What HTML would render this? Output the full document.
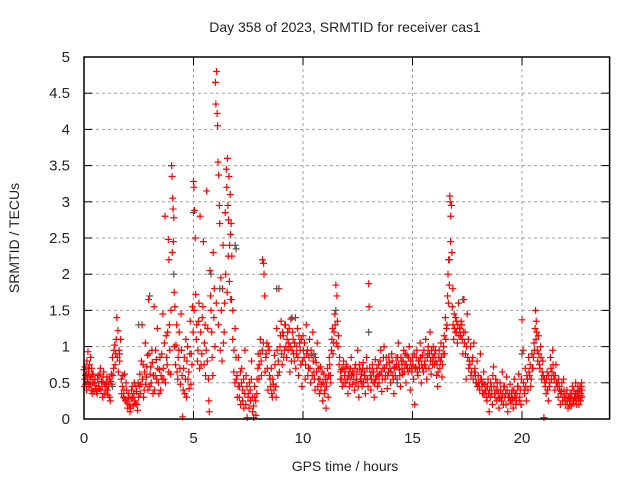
<!DOCTYPE html>
<html><head><meta charset="utf-8"><style>
body{margin:0;background:#fff}
svg text{font-family:"Liberation Sans",sans-serif;font-size:14px;fill:#222}
svg text.tick{font-size:15px}
</style></head><body>
<svg id="chart" width="640" height="480" xmlns="http://www.w3.org/2000/svg">
<text x="345" y="32" text-anchor="middle">Day 358 of 2023, SRMTID for receiver cas1</text>
<text transform="translate(19,238) rotate(-90)" text-anchor="middle">SRMTID / TECUs</text>
<text x="345" y="471" text-anchor="middle">GPS time / hours</text>
<g id="grid"></g>
<g id="ticks"></g>
<g id="marks-red"></g>
<g id="marks-gray"></g>
<rect x="84" y="57" width="525.6" height="362" fill="none" stroke="#000" stroke-width="1.5"/>
</svg>
<script>
const xTicks=[0,5,10,15,20];
const yTicks=[0,0.5,1,1.5,2,2.5,3,3.5,4,4.5,5];
const yTickLabels=["0","0.5","1","1.5","2","2.5","3","3.5","4","4.5","5"];
const redTimes=[
0.00,0.03,0.05,0.08,0.10,0.13,0.15,0.18,0.20,0.23,
0.25,0.28,0.30,0.33,0.35,0.38,0.40,0.45,0.50,0.55,
0.60,0.65,0.70,0.75,0.80,0.85,0.90,0.95,1.00,1.05,
1.10,1.15,1.20,1.25,1.30,1.35,1.40,1.45,1.50,1.55,
1.60,1.63,1.67,1.70,1.75,1.80,1.85,1.90,1.95,2.00,
2.05,2.10,2.15,2.20,2.25,2.30,2.35,2.40,2.45,2.50,
2.55,2.60,2.65,2.70,2.75,2.80,2.85,2.90,2.95,3.00,
3.05,3.10,3.15,3.20,3.25,3.30,3.35,3.40,3.45,3.50,
3.55,3.60,3.65,3.70,3.75,3.80,3.85,3.88,3.90,3.95,
4.00,4.02,4.05,4.07,4.10,4.12,4.15,4.20,4.25,4.30,
4.35,4.40,4.45,4.50,4.55,4.60,4.65,4.70,4.75,4.80,
4.85,4.90,4.95,5.00,5.02,5.05,5.08,5.10,5.15,5.20,
5.25,5.30,5.35,5.40,5.45,5.50,5.55,5.60,5.65,5.70,
5.72,5.75,5.80,5.85,5.90,5.95,6.00,6.02,6.05,6.08,
6.10,6.12,6.15,6.18,6.20,6.25,6.30,6.35,6.40,6.45,
6.50,6.52,6.55,6.57,6.60,6.62,6.65,6.68,6.70,6.72,
6.75,6.80,6.85,6.90,6.95,7.00,7.05,7.10,7.15,7.20,
7.25,7.30,7.35,7.40,7.45,7.50,7.55,7.60,7.65,7.70,
7.75,7.80,7.85,7.90,7.95,8.00,8.05,8.10,8.15,8.20,
8.22,8.25,8.30,8.35,8.40,8.45,8.50,8.55,8.60,8.65,
8.70,8.75,8.80,8.85,8.90,8.95,9.00,9.05,9.10,9.15,
9.20,9.25,9.30,9.35,9.40,9.45,9.50,9.55,9.60,9.65,
9.70,9.75,9.80,9.85,9.90,9.95,10.00,10.05,10.10,10.15,
10.20,10.25,10.30,10.35,10.40,10.45,10.50,10.55,10.60,10.65,
10.70,10.75,10.80,10.85,10.90,10.95,11.00,11.05,11.10,11.15,
11.20,11.25,11.30,11.35,11.40,11.45,11.50,11.55,11.60,11.65,
11.70,11.75,11.80,11.85,11.90,11.95,12.00,12.05,12.10,12.15,
12.20,12.25,12.30,12.35,12.40,12.45,12.50,12.55,12.60,12.65,
12.70,12.75,12.80,12.85,12.90,12.95,13.00,13.02,13.05,13.10,
13.15,13.20,13.25,13.30,13.35,13.40,13.45,13.50,13.55,13.60,
13.65,13.70,13.75,13.80,13.85,13.90,13.95,14.00,14.05,14.10,
14.15,14.20,14.25,14.30,14.35,14.40,14.45,14.50,14.55,14.60,
14.65,14.70,14.75,14.80,14.85,14.90,14.95,15.00,15.05,15.10,
15.15,15.20,15.25,15.30,15.35,15.40,15.45,15.50,15.55,15.60,
15.65,15.70,15.75,15.80,15.85,15.90,15.95,16.00,16.05,16.10,
16.15,16.20,16.25,16.30,16.35,16.40,16.45,16.50,16.55,16.60,
16.62,16.65,16.68,16.70,16.72,16.75,16.78,16.80,16.82,16.85,
16.88,16.90,16.95,17.00,17.05,17.10,17.15,17.20,17.25,17.30,
17.35,17.40,17.45,17.50,17.55,17.60,17.65,17.70,17.75,17.80,
17.85,17.90,17.95,18.00,18.05,18.10,18.15,18.20,18.25,18.30,
18.35,18.40,18.45,18.50,18.55,18.60,18.65,18.70,18.75,18.80,
18.85,18.90,18.95,19.00,19.05,19.10,19.15,19.20,19.25,19.30,
19.35,19.40,19.45,19.50,19.55,19.60,19.65,19.70,19.75,19.80,
19.85,19.90,19.95,20.00,20.05,20.10,20.15,20.20,20.25,20.30,
20.35,20.40,20.45,20.50,20.55,20.60,20.62,20.65,20.70,20.75,
20.80,20.85,20.90,20.95,21.00,21.05,21.10,21.15,21.20,21.25,
21.30,21.35,21.40,21.45,21.50,21.55,21.60,21.65,21.70,21.75,
21.80,21.85,21.90,21.95,22.00,22.05,22.10,22.15,22.20,22.25,
22.30,22.35,22.40,22.45,22.50,22.55,22.60,22.65,22.70,22.72];
const redValues=[
0.68,0.55,0.72,0.48,0.62,0.80,0.52,0.93,0.65,0.45,
0.75,0.58,0.85,0.40,0.70,0.62,0.50,0.38,0.55,0.46,
0.35,0.60,0.42,0.70,0.52,0.30,0.65,0.48,0.40,0.58,
0.33,0.55,0.25,0.62,0.85,0.70,1.02,0.90,1.40,1.22,
0.95,0.80,1.10,0.55,0.45,0.30,0.62,0.25,0.40,0.15,
0.35,0.10,0.28,0.45,0.18,0.50,0.22,0.38,0.12,0.30,
0.62,0.48,1.30,0.75,0.40,1.05,0.58,0.88,1.65,0.45,
0.72,0.95,0.35,1.55,0.60,0.82,1.25,0.50,0.68,0.40,
0.90,1.45,0.55,2.80,1.15,0.75,2.48,2.20,1.30,0.62,
3.50,3.35,3.05,2.90,2.78,1.75,1.55,1.02,0.65,0.85,
1.20,0.48,0.95,0.03,0.70,0.35,1.10,0.80,0.55,0.42,
1.35,0.90,1.55,3.28,3.20,2.88,2.50,1.72,1.30,0.95,
1.60,2.80,0.75,1.40,2.45,1.05,0.60,3.15,1.25,0.25,
0.10,2.05,1.50,0.85,2.30,1.80,4.65,4.35,4.80,4.22,
4.05,3.55,3.37,2.95,2.70,1.95,0.80,2.40,1.20,2.85,
3.45,3.20,3.60,2.95,2.75,3.35,2.40,3.10,1.65,2.70,
2.25,1.50,0.95,1.25,0.55,0.30,0.85,0.45,0.20,0.70,
0.40,0.15,0.95,0.60,0.02,0.35,0.50,0.25,0.80,0.10,
0.02,0.30,0.05,0.55,0.90,0.75,1.10,0.60,2.20,2.15,
2.00,1.70,0.85,1.05,0.40,0.95,0.55,0.70,0.30,0.48,
0.88,0.45,1.25,0.60,1.80,1.00,1.35,0.75,1.15,0.95,
1.30,0.85,1.20,1.05,0.65,1.38,0.95,1.10,0.80,1.40,
0.90,1.25,0.60,1.05,0.75,0.45,1.15,0.85,0.55,1.30,
0.95,0.70,1.10,0.50,0.88,1.20,0.65,0.40,0.78,1.05,
0.55,0.35,0.72,0.48,0.25,0.62,0.40,0.15,0.55,0.30,
0.85,0.60,0.95,1.25,1.05,1.45,1.85,1.70,1.00,0.75,
0.55,0.68,0.45,0.80,0.60,0.50,0.72,0.35,0.65,0.55,
0.85,0.48,0.62,0.40,0.75,0.55,0.95,0.30,0.68,0.52,
0.45,0.78,0.60,0.35,0.85,0.55,1.87,1.55,0.70,0.40,
0.65,0.50,0.30,0.82,0.58,0.45,0.75,0.62,0.95,0.38,
0.70,1.00,0.55,0.85,0.42,0.65,0.78,0.50,0.90,0.60,
0.35,0.72,0.85,0.55,1.05,0.68,0.45,0.80,0.62,0.95,
0.75,0.50,0.88,0.65,1.00,0.40,0.70,0.85,0.55,0.20,
0.72,0.95,0.60,0.80,1.05,0.50,0.88,0.65,0.75,1.10,
0.55,0.90,0.70,1.20,0.62,0.85,1.00,0.75,0.95,0.60,
0.45,0.85,0.70,1.05,0.58,0.90,1.15,1.40,1.25,1.70,
2.00,2.20,1.85,3.08,3.00,2.80,2.95,2.30,1.55,1.30,
1.10,1.45,1.20,1.35,1.05,1.60,1.25,1.15,1.30,0.90,
1.65,1.20,0.55,1.45,1.10,0.80,1.00,0.65,0.85,1.05,
0.70,0.50,0.80,0.60,0.45,0.90,0.55,0.35,0.65,0.48,
0.40,0.25,0.55,0.10,0.30,0.45,0.20,0.72,0.35,0.55,
0.25,0.40,0.15,0.50,0.30,0.65,0.20,0.45,0.35,0.58,
0.10,0.30,0.48,0.22,0.40,0.15,0.55,0.35,0.25,0.45,
0.62,0.30,0.20,1.37,0.95,0.40,0.70,0.25,0.55,0.85,
0.60,0.45,0.90,0.70,1.05,1.25,1.50,1.35,0.95,1.15,
0.75,1.00,0.55,0.80,0.02,0.50,0.35,0.65,0.25,0.45,
0.85,0.55,0.95,0.60,0.40,0.75,0.50,0.30,0.45,0.20,
0.38,0.25,0.55,0.30,0.20,0.40,0.15,0.28,0.35,0.18,
0.45,0.25,0.30,0.50,0.20,0.38,0.28,0.45,0.32,0.50];
const redTimes2=[
0.02,0.07,0.12,0.17,0.22,0.27,0.32,0.37,0.42,0.47,
0.52,0.57,0.62,0.67,0.72,0.77,0.82,0.87,0.92,0.97,
1.02,1.07,1.12,1.17,1.22,1.27,1.32,1.37,1.42,1.47,
1.52,1.57,1.62,1.72,1.77,1.82,1.87,1.92,1.97,2.02,
2.07,2.12,2.17,2.22,2.27,2.32,2.37,2.42,2.47,2.52,
2.57,2.62,2.67,2.72,2.77,2.82,2.87,2.92,2.97,3.02,
3.07,3.12,3.17,3.22,3.27,3.32,3.37,3.42,3.47,3.52,
3.57,3.62,3.67,3.72,3.77,3.82,3.87,3.92,3.97,4.03,
4.08,4.13,4.18,4.23,4.28,4.33,4.38,4.43,4.48,4.53,
4.58,4.63,4.68,4.73,4.78,4.83,4.88,4.93,4.98,5.03,
5.13,5.18,5.23,5.28,5.33,5.38,5.43,5.48,5.53,5.58,
5.63,5.68,5.78,5.83,5.88,5.93,5.98,6.04,6.14,6.22,
6.27,6.32,6.37,6.42,6.47,6.54,6.59,6.64,6.69,6.74,
6.79,6.84,6.89,6.94,6.99,7.04,7.09,7.14,7.19,7.24,
7.29,7.34,7.39,7.44,7.49,7.54,7.59,7.64,7.69,7.74,
7.79,7.84,7.89,7.94,7.99,8.04,8.09,8.14,8.19,8.27,
8.32,8.37,8.42,8.47,8.52,8.57,8.62,8.67,8.72,8.77,
8.82,8.87,8.92,8.97,9.02,9.07,9.12,9.17,9.22,9.27,
9.32,9.37,9.42,9.47,9.52,9.57,9.62,9.67,9.72,9.77,
9.82,9.87,9.92,9.97,10.02,10.07,10.12,10.17,10.22,10.27,
10.32,10.37,10.42,10.47,10.52,10.57,10.62,10.67,10.72,10.77,
10.82,10.87,10.92,10.97,11.02,11.07,11.12,11.17,11.22,11.27,
11.32,11.37,11.42,11.47,11.52,11.57,11.62,11.67,11.72,11.77,
11.82,11.87,11.92,11.97,12.02,12.07,12.12,12.17,12.22,12.27,
12.32,12.37,12.42,12.47,12.52,12.57,12.62,12.67,12.72,12.77,
12.82,12.87,12.92,12.97,13.07,13.12,13.17,13.22,13.27,13.32,
13.37,13.42,13.47,13.52,13.57,13.62,13.67,13.72,13.77,13.82,
13.87,13.92,13.97,14.02,14.07,14.12,14.17,14.22,14.27,14.32,
14.37,14.42,14.47,14.52,14.57,14.62,14.67,14.72,14.77,14.82,
14.87,14.92,14.97,15.02,15.07,15.12,15.17,15.22,15.27,15.32,
15.37,15.42,15.47,15.52,15.57,15.62,15.67,15.72,15.77,15.82,
15.87,15.92,15.97,16.02,16.07,16.12,16.17,16.22,16.27,16.32,
16.37,16.42,16.47,16.52,16.57,16.64,16.74,16.84,16.92,16.97,
17.02,17.07,17.12,17.17,17.22,17.27,17.32,17.37,17.42,17.47,
17.52,17.57,17.62,17.67,17.72,17.77,17.82,17.87,17.92,17.97,
18.02,18.07,18.12,18.17,18.22,18.27,18.32,18.37,18.42,18.47,
18.52,18.57,18.62,18.67,18.72,18.77,18.82,18.87,18.92,18.97,
19.02,19.07,19.12,19.17,19.22,19.27,19.32,19.37,19.42,19.47,
19.52,19.57,19.62,19.67,19.72,19.77,19.82,19.87,19.92,19.97,
20.07,20.12,20.17,20.22,20.27,20.32,20.37,20.42,20.47,20.52,
20.57,20.64,20.67,20.72,20.77,20.82,20.87,20.92,20.97,21.02,
21.07,21.12,21.17,21.22,21.27,21.32,21.37,21.42,21.47,21.52,
21.57,21.62,21.67,21.72,21.77,21.82,21.87,21.92,21.97,22.02,
22.07,22.12,22.17,22.22,22.27,22.32,22.37,22.42,22.47,22.52,
22.57,22.62,22.67,22.69,22.71,22.73,22.74,22.60,22.55,22.45];
const redValues2=[
0.45,0.60,0.40,0.55,0.70,0.48,0.58,0.35,0.62,0.50,
0.42,0.38,0.55,0.45,0.62,0.40,0.50,0.58,0.35,0.45,
0.50,0.40,0.45,0.30,0.52,0.48,0.60,0.95,0.75,1.10,
0.85,0.65,0.90,0.35,0.60,0.40,0.28,0.50,0.22,0.30,
0.20,0.15,0.40,0.30,0.35,0.25,0.45,0.20,0.50,0.45,
0.35,0.80,0.55,0.30,0.65,0.48,0.72,0.40,0.90,0.62,
0.50,0.78,0.60,0.40,0.95,0.55,0.70,0.35,0.85,0.60,
0.55,0.70,1.05,0.50,0.85,1.20,0.65,0.95,1.50,2.30,
2.45,1.00,0.75,1.30,0.55,0.95,0.70,1.45,0.60,0.40,
0.85,0.55,0.30,1.00,0.65,0.90,0.48,0.75,1.20,1.50,
1.10,0.80,1.35,0.70,1.20,0.90,1.55,0.75,1.30,0.95,
0.80,0.55,1.70,1.20,0.60,1.40,1.00,1.60,1.30,0.95,
1.50,1.80,1.05,1.60,2.00,1.75,2.25,1.90,2.55,1.65,
1.10,0.65,0.50,0.85,0.60,0.45,0.30,0.65,0.50,0.25,
0.55,0.35,0.20,0.45,0.30,0.15,0.40,0.55,0.30,0.18,
0.45,0.25,0.35,0.70,0.55,0.90,0.80,0.95,1.05,0.65,
0.90,0.70,1.00,0.60,0.45,0.35,0.55,0.40,0.75,0.30,
0.95,0.80,0.65,1.15,0.90,1.20,0.85,1.30,1.00,1.10,
0.95,1.25,1.00,0.80,1.20,0.90,1.05,0.70,1.00,0.85,
1.15,0.95,1.10,0.80,0.95,1.05,0.75,0.90,0.60,0.85,
0.70,0.95,0.60,0.80,0.55,0.85,0.65,0.45,0.70,0.55,
0.40,0.65,0.50,0.35,0.55,0.45,0.70,0.60,0.75,0.50,
1.10,0.90,1.20,1.30,1.05,1.35,1.15,0.85,0.65,0.55,
0.70,0.50,0.65,0.75,0.55,0.60,0.45,0.70,0.60,0.65,
0.55,0.70,0.50,0.65,0.45,0.75,0.55,0.62,0.70,0.50,
0.65,0.55,0.70,0.45,0.60,0.55,0.75,0.65,0.50,0.55,
0.70,0.60,0.50,0.80,0.65,0.55,0.85,0.70,0.60,0.75,
0.60,0.85,0.70,0.65,0.80,0.55,0.70,0.60,0.75,0.85,
0.75,0.60,0.85,0.70,0.80,0.65,0.90,0.75,0.70,0.85,
0.70,0.80,0.65,0.75,0.90,0.70,0.85,0.65,0.80,0.70,
0.85,0.75,0.70,0.95,0.80,0.70,0.85,1.00,0.90,0.80,
0.95,0.75,0.85,0.90,0.80,0.75,0.65,0.95,0.80,0.85,
0.75,1.00,0.90,1.10,1.30,1.60,2.45,1.80,1.25,1.40,
1.20,1.30,1.15,1.25,1.35,1.10,1.20,1.05,0.90,1.00,
0.85,0.70,0.75,0.60,0.80,0.55,0.65,0.60,0.50,0.45,
0.50,0.40,0.55,0.45,0.50,0.35,0.40,0.30,0.45,0.35,
0.40,0.50,0.35,0.60,0.45,0.30,0.40,0.50,0.35,0.28,
0.40,0.25,0.35,0.45,0.30,0.20,0.40,0.30,0.35,0.25,
0.35,0.28,0.40,0.30,0.20,0.35,0.45,0.25,0.40,0.55,
0.50,0.35,0.45,0.60,0.40,0.65,0.75,0.55,0.70,0.85,
0.95,1.10,1.20,0.80,0.90,0.70,0.85,0.65,0.60,0.55,
0.45,0.55,0.40,0.60,0.50,0.70,0.65,0.75,0.55,0.60,
0.50,0.45,0.55,0.40,0.35,0.50,0.30,0.40,0.25,0.35,
0.25,0.30,0.20,0.28,0.35,0.22,0.40,0.30,0.25,0.35,
0.30,0.40,0.25,0.35,0.45,0.30,0.40,0.20,0.45,0.35];
const grayTimes=[1.3,2.5,3.0,4.1,5.0,5.8,6.2,6.9,6.95,8.8,9.5,10.5,11.5,13.0,14.3,16.7,17.3,20.0];
const grayValues=[0.45,1.3,1.7,2.0,2.85,2.0,1.8,2.4,2.35,1.8,1.4,0.9,1.5,1.2,0.5,2.2,1.65,0.9];

const L=84,R=609.6,T=57,B=419,XMAX=24,YMAX=5;
const xs=t=>L+t/XMAX*(R-L);
const ys=v=>B-v/YMAX*(B-T);
const NS='http://www.w3.org/2000/svg';
const svg=document.getElementById('chart');
const grid=document.getElementById('grid');
const ticks=document.getElementById('ticks');
function mk(tag,attrs,parent){const e=document.createElementNS(NS,tag);for(const k in attrs)e.setAttribute(k,attrs[k]);parent.appendChild(e);return e;}
yTicks.forEach((v,i)=>{
  const y=ys(v);
  if(v>0&&v<YMAX){const g=mk('line',{x1:L,x2:R,y1:y,y2:y,stroke:'#a0a0a0','stroke-dasharray':'3,3','stroke-width':1},grid);
  
  }
  const t1=mk('line',{x1:L,x2:L+8,y1:y,y2:y,stroke:'#000'},ticks);
  
  
  const t2=mk('line',{x1:R-8,x2:R,y1:y,y2:y,stroke:'#000'},ticks);
  
  
  const tx=mk('text',{x:70,y:y+5,'text-anchor':'end','class':'tick'},svg);tx.textContent=yTickLabels[i];
  
  
});
xTicks.forEach(t=>{
  const x=xs(t);
  if(t>0){const g=mk('line',{x1:x,x2:x,y1:T,y2:B,stroke:'#a0a0a0','stroke-dasharray':'3,3','stroke-width':1},grid);
  
  }
  const t1=mk('line',{x1:x,x2:x,y1:B-8,y2:B,stroke:'#000'},ticks);
  
  
  const t2=mk('line',{x1:x,x2:x,y1:T,y2:T+8,stroke:'#000'},ticks);
  
  
  const tx=mk('text',{x:x,y:443,'text-anchor':'middle','class':'tick'},svg);tx.textContent=String(t);
  
  
});
function plus(g,t,v,color){
  const x=xs(t),y=ys(v);
  return mk('path',{d:`M${x-3.5},${y}H${x+3.5}M${x},${y-3.5}V${y+3.5}`,stroke:color,'stroke-width':1.2,fill:'none'},g);
}
const gr=document.getElementById('marks-red');
redTimes.forEach((t,i)=>{
  const p=plus(gr,t,redValues[i],'#ff0000');
  
  
});
redTimes2.forEach((t,i)=>{
  const p=plus(gr,t,redValues2[i],'#ff0000');
  
  
});
const gg=document.getElementById('marks-gray');
grayTimes.forEach((t,i)=>{
  const p=plus(gg,t,grayValues[i],'#555555');
  
  
});
</script>
</body></html>
